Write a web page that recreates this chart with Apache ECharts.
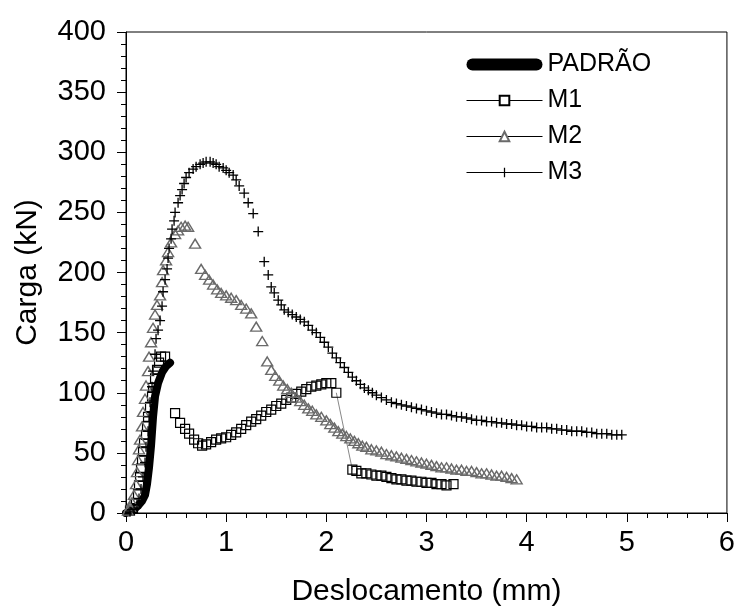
<!DOCTYPE html>
<html>
<head>
<meta charset="utf-8">
<script src="https://cdn.jsdelivr.net/npm/echarts@6/dist/echarts.min.js"></script>
<style>
  html, body { margin: 0; padding: 0; background: #fff; }
  #chart { width: 738px; height: 612px; }
</style>
</head>
<body>
<div id="chart"></div>
<script>
// Load–displacement curves: deslocamento (mm) vs carga (kN)
const xTicks = [0, 1, 2, 3, 4, 5, 6];
const yTicks = [0, 50, 100, 150, 200, 250, 300, 350, 400];

const padrao = [
  [0, 0], [0.04, 1], [0.08, 3], [0.12, 6], [0.16, 10], [0.19, 15], [0.21, 24],
  [0.23, 38], [0.25, 56], [0.27, 80], [0.29, 97], [0.32, 108], [0.36, 117],
  [0.40, 122], [0.44, 125]
];

const m1Rise = [
  [0.04, 2], [0.07, 4], [0.10, 8], [0.12, 16], [0.13, 23], [0.14, 30], [0.15, 37],
  [0.16, 44], [0.17, 51], [0.18, 58], [0.20, 65], [0.21, 72], [0.22, 80], [0.24, 88],
  [0.26, 97], [0.27, 104], [0.29, 112], [0.31, 119], [0.33, 125], [0.35, 130], [0.39, 130]
];
const m1Mid = [
  [0.49, 83], [0.54, 75], [0.59, 70], [0.63, 66], [0.68, 61], [0.72, 58], [0.76, 56],
  [0.80, 57], [0.85, 59], [0.90, 61], [0.95, 62], [1.00, 63], [1.05, 65], [1.10, 67],
  [1.15, 70], [1.20, 73], [1.25, 76], [1.30, 78], [1.35, 81], [1.40, 84], [1.45, 86],
  [1.50, 89], [1.55, 91], [1.60, 94], [1.65, 96], [1.70, 99], [1.75, 101], [1.80, 103],
  [1.85, 105], [1.90, 106], [1.95, 107], [2.00, 108], [2.05, 108], [2.10, 100]
];
const m1Tail = [
  [2.26, 36], [2.30, 35], [2.35, 33], [2.40, 33], [2.45, 32], [2.50, 31], [2.55, 31],
  [2.60, 30], [2.65, 29], [2.70, 28], [2.75, 28], [2.80, 27], [2.85, 27], [2.90, 26],
  [2.95, 26], [3.00, 25], [3.05, 25], [3.10, 24], [3.15, 24], [3.20, 23], [3.27, 24]
];

const m2 = [
  [0.02, 2], [0.04, 5], [0.06, 9], [0.08, 15], [0.10, 24], [0.11, 34], [0.12, 44],
  [0.13, 53], [0.14, 61], [0.16, 72], [0.17, 84], [0.19, 95], [0.20, 106], [0.22, 118],
  [0.23, 130], [0.25, 142], [0.27, 154], [0.29, 165], [0.31, 173], [0.34, 181],
  [0.36, 192], [0.37, 202], [0.40, 210], [0.42, 217], [0.45, 225], [0.49, 232],
  [0.52, 235], [0.55, 238], [0.59, 239], [0.62, 238], [0.69, 224], [0.75, 203],
  [0.79, 198], [0.83, 194], [0.87, 190], [0.91, 186], [0.95, 183], [1.00, 181],
  [1.05, 179], [1.10, 177], [1.15, 173], [1.20, 170], [1.25, 166], [1.30, 155],
  [1.36, 143], [1.41, 126], [1.45, 119], [1.49, 114], [1.53, 110], [1.57, 106],
  [1.61, 103], [1.65, 100], [1.70, 96], [1.74, 93], [1.78, 90], [1.82, 87], [1.86, 85],
  [1.90, 82], [1.95, 80], [2.00, 77], [2.04, 74], [2.08, 71], [2.12, 68], [2.16, 66],
  [2.20, 64], [2.24, 62], [2.28, 60], [2.32, 58], [2.36, 56], [2.40, 55], [2.45, 53],
  [2.50, 52], [2.55, 51], [2.60, 49], [2.65, 48], [2.70, 47], [2.75, 46], [2.80, 45],
  [2.85, 44], [2.90, 43], [2.95, 42], [3.00, 41], [3.05, 40], [3.10, 39], [3.15, 38],
  [3.20, 38], [3.25, 37], [3.30, 36], [3.35, 36], [3.40, 35], [3.45, 35], [3.50, 34],
  [3.55, 33], [3.60, 33], [3.65, 32], [3.70, 31], [3.75, 31], [3.80, 30], [3.85, 29],
  [3.90, 28]
];

const m3 = [
  [0.04, 1], [0.08, 3], [0.11, 7], [0.13, 12], [0.15, 20], [0.17, 30], [0.19, 42],
  [0.20, 55], [0.22, 68], [0.23, 80], [0.24, 92], [0.26, 105], [0.27, 118], [0.29, 132],
  [0.30, 145], [0.32, 152], [0.34, 160], [0.36, 172], [0.37, 184], [0.39, 194],
  [0.41, 203], [0.42, 212], [0.43, 220], [0.45, 228], [0.46, 236], [0.48, 243],
  [0.49, 250], [0.52, 258], [0.54, 264], [0.56, 269], [0.58, 274], [0.60, 279],
  [0.63, 283], [0.67, 286], [0.70, 288], [0.74, 290], [0.77, 291], [0.80, 292],
  [0.84, 292], [0.87, 291], [0.90, 290], [0.93, 288], [0.97, 287], [1.00, 285],
  [1.03, 283], [1.07, 281], [1.10, 277], [1.13, 272], [1.18, 266], [1.22, 258],
  [1.27, 249], [1.32, 234], [1.38, 209], [1.42, 198], [1.45, 188], [1.48, 183],
  [1.52, 177], [1.55, 173], [1.58, 169], [1.62, 167], [1.66, 165], [1.70, 163],
  [1.74, 161], [1.78, 159], [1.82, 156], [1.86, 152], [1.90, 150], [1.94, 146],
  [1.98, 142], [2.02, 138], [2.06, 133], [2.10, 129], [2.14, 125], [2.18, 121],
  [2.22, 117], [2.26, 113], [2.30, 110], [2.34, 107], [2.38, 104], [2.42, 102],
  [2.46, 100], [2.50, 98], [2.55, 96], [2.60, 94], [2.65, 92], [2.70, 91], [2.75, 90],
  [2.80, 89], [2.85, 88], [2.90, 87], [2.95, 86], [3.00, 85], [3.05, 84], [3.10, 83],
  [3.15, 82], [3.20, 82], [3.25, 81], [3.30, 80], [3.35, 80], [3.40, 79], [3.45, 78],
  [3.50, 77], [3.55, 77], [3.60, 76], [3.65, 76], [3.70, 75], [3.75, 75], [3.80, 74],
  [3.85, 74], [3.90, 73], [3.95, 73], [4.00, 72], [4.05, 72], [4.10, 71], [4.15, 71],
  [4.20, 71], [4.25, 70], [4.30, 70], [4.35, 69], [4.40, 69], [4.45, 68], [4.50, 68],
  [4.55, 68], [4.60, 67], [4.65, 67], [4.70, 66], [4.75, 66], [4.80, 66], [4.85, 65],
  [4.90, 65], [4.95, 65]
];

const FONT = '"Liberation Sans", Arial, sans-serif';
const PLUS = 'path://M4.35,0H5.65V4.35H10V5.65H5.65V10H4.35V5.65H0V4.35H4.35Z';
const CAPSULE = 'path://M6,0H70A6,6,0,0,1,70,12H6A6,6,0,0,1,6,0Z';

// M1 is recorded as three stretches; the drop after the second one is joined by a thin line
const m1 = m1Rise.concat(m1Mid, m1Tail);
const m1Drop = [m1Mid[m1Mid.length - 1], m1Tail[0]];

const chart = echarts.init(document.getElementById('chart'), null, { renderer: 'canvas' });

const hidden = { opacity: 0 };

chart.setOption({
  animation: false,
  backgroundColor: '#fff',
  textStyle: { fontFamily: FONT },
  grid: {
    left: 126, right: 10, top: 32, bottom: 96,
    show: true, borderColor: '#000', borderWidth: 1, backgroundColor: 'transparent'
  },
  legend: {
    orient: 'vertical',
    left: 466, top: 52,
    padding: 0,
    itemWidth: 76, itemHeight: 12, itemGap: 11,
    textStyle: { fontSize: 25, color: '#000', fontFamily: FONT },
    lineStyle: { color: '#000', width: 1, opacity: 1 },
    data: [
      { name: 'PADRÃO', icon: CAPSULE },
      { name: 'M1', itemStyle: { color: '#fff' } },
      { name: 'M2', itemStyle: { color: '#fff' } },
      'M3'
    ]
  },
  xAxis: {
    type: 'value',
    min: xTicks[0], max: xTicks[xTicks.length - 1], interval: 1,
    name: 'Deslocamento (mm)', nameLocation: 'middle', nameGap: 64,
    nameTextStyle: { fontSize: 30, color: '#000', fontFamily: FONT },
    axisLine: { show: true, lineStyle: { color: '#000', width: 1 } },
    axisTick: { show: true, inside: false, length: 9, lineStyle: { color: '#000', width: 1 } },
    minorTick: { show: true, splitNumber: 5, length: 5, lineStyle: { color: '#000', width: 1 } },
    axisLabel: { fontSize: 29, color: '#000', margin: 15, fontFamily: FONT },
    splitLine: { show: false }
  },
  yAxis: {
    type: 'value',
    min: yTicks[0], max: yTicks[yTicks.length - 1], interval: 50,
    name: 'Carga (kN)', nameLocation: 'middle', nameGap: 83,
    nameTextStyle: { fontSize: 30, color: '#000', fontFamily: FONT },
    axisLine: { show: true, lineStyle: { color: '#000', width: 1 } },
    axisTick: { show: true, inside: false, length: 9, lineStyle: { color: '#000', width: 1 } },
    minorTick: { show: true, splitNumber: 5, length: 5, lineStyle: { color: '#000', width: 1 } },
    axisLabel: { fontSize: 29, color: '#000', margin: 20, fontFamily: FONT },
    splitLine: { show: false }
  },
  series: [
    {
      name: 'PADRÃO', type: 'line', data: padrao,
      showSymbol: false, symbol: 'circle',
      lineStyle: { color: '#000', width: 8, cap: 'round', join: 'round' },
      itemStyle: { color: '#000' },
      z: 2
    },
    {
      name: 'M1-drop', type: 'line', data: m1Drop,
      showSymbol: false,
      lineStyle: { color: '#888', width: 1 },
      z: 2
    },
    {
      name: 'M1', type: 'line', data: m1,
      symbol: 'rect', symbolSize: 9,
      lineStyle: hidden,
      itemStyle: { color: 'rgba(255,255,255,0)', borderColor: '#000', borderWidth: 1.2 },
      z: 3
    },
    {
      name: 'M2', type: 'line', data: m2,
      symbol: 'triangle', symbolSize: [11, 9],
      lineStyle: hidden,
      itemStyle: { color: 'rgba(255,255,255,0)', borderColor: '#6a6a6a', borderWidth: 1.4 },
      z: 4
    },
    {
      name: 'M3', type: 'line', data: m3,
      symbol: PLUS, symbolSize: 10,
      lineStyle: hidden,
      itemStyle: { color: '#000' },
      z: 5
    }
  ]
});
</script>
</body>
</html>
